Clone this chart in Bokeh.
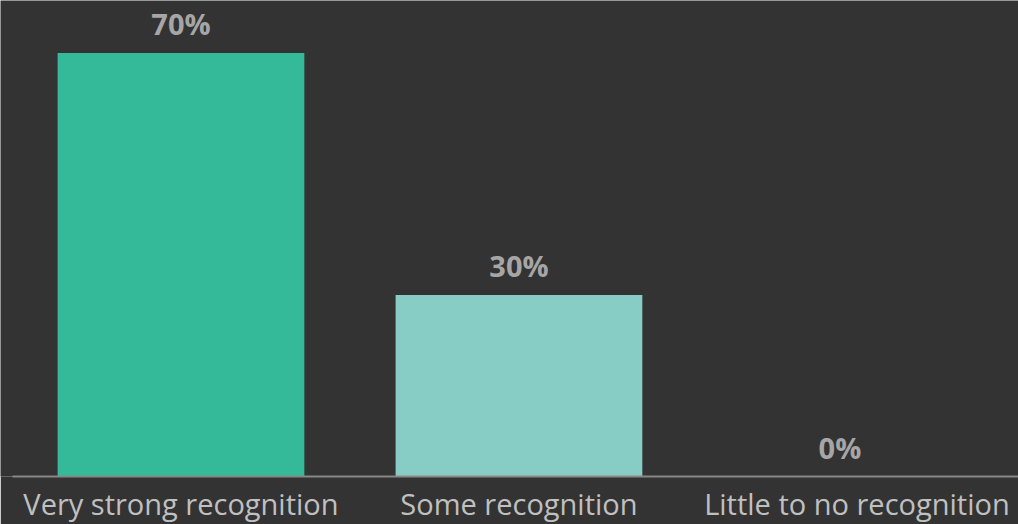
from bokeh.plotting import figure
from bokeh.models import Range1d, FixedTicker, ColumnDataSource, LabelSet
from bokeh.core.properties import value
from bokeh.embed import file_html
from bokeh.resources import INLINE

categories = ["Very strong recognition", "Some recognition", "Little to no recognition"]
values = [70, 30, 0]
labels = ["70%", "30%", "0%"]
colors = ["#34BA98", "#88CCC6", "#88CCC6"]
positions = [0, 1, 2]

BG = "#333333"

p = figure(width=1018, height=524, frame_width=1018, frame_height=476,
           output_backend="svg", toolbar_location=None,
           x_range=Range1d(-0.534, 2.478), y_range=Range1d(0, 78.7),
           min_border_left=0, min_border_right=0, min_border_top=0, min_border_bottom=48,
           background_fill_color=BG, border_fill_color=BG, outline_line_color=None)

src = ColumnDataSource(dict(x=positions, top=values, color=colors, label=labels,
                            xoff=[0, 0, -17]))
p.vbar(x="x", top="top", width=0.73, color="color", source=src, line_color=None)

lbl = LabelSet(x="x", y="top", text="label", source=src, text_align="center",
               text_baseline="alphabetic", y_offset=18, x_offset="xoff",
               text_font=value("Open Sans"), text_font_style="bold",
               text_font_size="29px", text_color="#a6a6a6")
p.add_layout(lbl)

p.yaxis.visible = False
p.grid.visible = False
p.xaxis.ticker = FixedTicker(ticks=positions)
p.xaxis.bounds = (-0.4985, 2.478)
p.xaxis.major_label_overrides = {i: c for i, c in zip(positions, categories)}
p.xaxis.axis_line_color = "#888888"
p.xaxis.axis_line_width = 2
p.xaxis.major_tick_line_color = None
p.xaxis.minor_tick_line_color = None
p.xaxis.major_label_text_font = "Open Sans"
p.xaxis.major_label_text_font_size = "29px"
p.xaxis.major_label_text_color = "#c0c0c0"
p.xaxis.major_label_standoff = 1

html = file_html(p, INLINE)
html = html.replace("<body>", '<body style="margin:0;background-color:%s;">' % BG, 1)
open("out.html", "w").write(html)
